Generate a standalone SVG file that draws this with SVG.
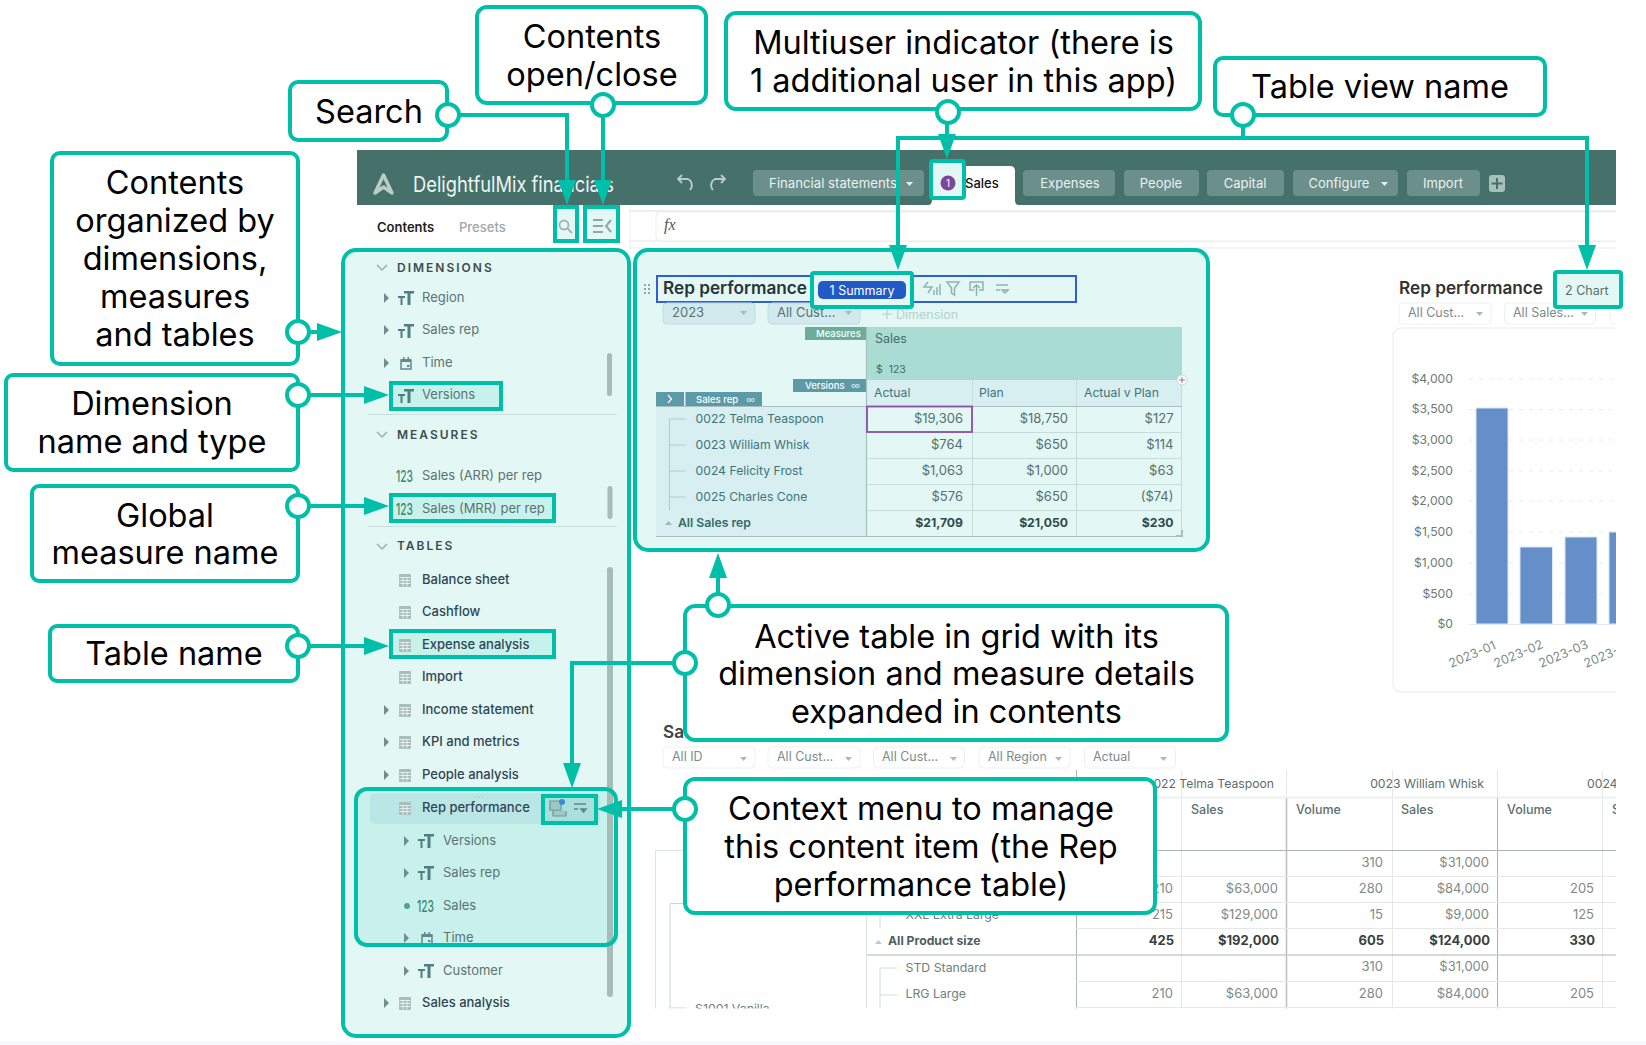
<svg xmlns="http://www.w3.org/2000/svg" width="1646" height="1045" viewBox="0 0 1646 1045">
<style>
text{font-family:Inter,"Liberation Sans",sans-serif}
.cb{fill:#fff;stroke:#00BFA8;stroke-width:4}
.ct{font-size:32.5px;fill:#000;text-anchor:middle}
.hl{fill:#E3F7F4;stroke:#00BFA8;stroke-width:4}
.hm{fill:#C9F1EC;stroke:#00BFA8;stroke-width:4}
.con{fill:none;stroke:#00BFA8;stroke-width:4}
.dot{fill:#fff;stroke:#00BFA8;stroke-width:4}
.tab{fill:#6B8F8A}
.tt{font-size:13px;fill:#EAF2F0;text-anchor:middle}
.sec{font-size:12px;font-weight:600;letter-spacing:2px;fill:#3D4D4D;transform:translate(-1px,0)}
.dim{font-size:13px;fill:#5A7372;transform:translate(-1px,-1px)}
.tbl{font-size:13px;font-weight:500;fill:#2E4653;transform:translate(-1px,-1px)}
.num{font-size:16px;font-weight:500;fill:#3A8A6E;transform:translate(-1px,0)}
.sep{stroke:#C8DEDC;stroke-width:1}
.sb{fill:#A6BCB9}
.chip{fill:#D2EAEE;stroke:#BEDDE2;stroke-width:1}
.wchip{fill:#fff;stroke:#EEF0F0;stroke-width:1}
.cht{font-size:12.5px;fill:#7C8C89;transform:translate(0,-1px)}
.ch2{font-size:12.5px;fill:#55706F}
.car{fill:#A8BBB9}
.val{font-size:13px;fill:#55706F;text-anchor:end;transform:translate(0,-1px)}
.valb{font-size:12.2px;font-weight:700;fill:#2F4A4A;text-anchor:end;transform:translate(0,-1px)}
.rh{font-size:12.2px;fill:#3F7479;transform:translate(0,-1px)}
.gl{stroke:#C4DCDA;stroke-width:1}
.tag{font-size:9.5px;font-weight:500;fill:#fff}
.ax{font-size:12.2px;fill:#6B7B78;text-anchor:end;transform:translate(0,-1px)}
.ic{fill:none;stroke:#8FB4AE;stroke-width:1.5}
.bar{fill:#648FC8;stroke:#DCE6F4;stroke-width:1}
.v2{font-size:13px;fill:#7F8A88;text-anchor:end;transform:translate(0,-1px)}
.v2b{font-size:13px;font-weight:700;fill:#3A3F3F;text-anchor:end;transform:translate(1px,-1px)}
.vh{font-size:12.2px;fill:#5A6E6C;text-anchor:end;transform:translate(0,-1px)}
.h2{font-size:12.5px;font-weight:500;fill:#5A6E6C;transform:translate(0,-1px)}
.lt{font-size:12.3px;fill:#6F7F7E;transform:translate(-1px,-1px)}
.l1{stroke:#E6E8E8;stroke-width:1}
.l2{stroke:#AEB4B4;stroke-width:1}
</style>
<defs>
<marker id="ah" markerUnits="userSpaceOnUse" markerWidth="26" markerHeight="18" refX="20" refY="9" orient="auto"><path d="M0,0L25,9L0,18Z" fill="#00BFA8"/></marker>
<symbol id="tT" viewBox="0 0 16 14" width="16" height="14" overflow="visible"><path d="M0,5H7V7H4.5V14H2.5V7H0ZM6,0H16V2.5H12.5V14H9.5V2.5H6Z" fill="#4F7F82"/></symbol>
<symbol id="tb" viewBox="0 0 12 13" width="12" height="13"><rect width="12" height="13" rx="1" fill="#A9BDBD"/><path d="M0.5,3.5H11.5M0.5,6.5H11.5M0.5,9.5H11.5M4,3.5V12.5M8,3.5V12.5" stroke="#E9F4F3" stroke-width="0.9" fill="none"/></symbol>
<symbol id="cal" viewBox="0 0 12 13" width="12" height="13"><path d="M1,3H11V12H1Z" fill="none" stroke="#5F8A8E" stroke-width="1.5"/><path d="M1,2H11V5H1ZM3,0H4.5V2H3ZM7.5,0H9V2H7.5ZM7,8H9.5V10H7Z" fill="#5F8A8E"/></symbol>
<clipPath id="c2"><rect x="640" y="770" width="976" height="238.500"/></clipPath>
<clipPath id="c3"><rect x="1380" y="260" width="236" height="460"/></clipPath>
</defs>

<rect width="1646" height="1045" fill="#fff"/>
<rect y="1041" width="1646" height="4" fill="#F8F9FA"/>

<g id="app-header">
<rect x="357" y="150" width="1259" height="55" fill="#46706A"/>
<path d="M375,193L383.500,175L392,193L383.500,187Z" fill="none" stroke="#B9CCC8" stroke-width="3.500" stroke-linejoin="round"/>
<text x="413" y="192" font-size="21" fill="#EEF5F3" textLength="201" lengthAdjust="spacingAndGlyphs">DelightfulMix financials</text>
<path d="M690,190A7,7 0 0 0 688,179H678M682,175L678,179L682,183" fill="none" stroke="#B9CCC8" stroke-width="1.800"/>
<path d="M713,190A7,7 0 0 1 715,179H725M721,175L725,179L721,183" fill="none" stroke="#B9CCC8" stroke-width="1.800"/>
<rect class="tab" x="753" y="170" width="171" height="26" rx="4"/><text class="tt" x="833" y="188" style="font-size:13.2px">Financial statements</text><path d="M906,182h7l-3.500,4z" fill="#EAF2F0"/>
<path d="M928,205Q932,205 932,200V171Q932,166 937,166H1010Q1015,166 1015,171V200Q1015,205 1019,205Z" fill="#fff"/>
<text x="965" y="188" font-size="13" font-weight="500" fill="#111">Sales</text>
<rect class="tab" x="1023" y="170" width="92" height="26" rx="4"/><text class="tt" x="1070" y="188">Expenses</text>
<rect class="tab" x="1124" y="170" width="75" height="26" rx="4"/><text class="tt" x="1161" y="188">People</text>
<rect class="tab" x="1207" y="170" width="77" height="26" rx="4"/><text class="tt" x="1245" y="188">Capital</text>
<rect class="tab" x="1293" y="170" width="105" height="26" rx="4"/><text class="tt" x="1339" y="188">Configure</text><path d="M1381,182h7l-3.500,4z" fill="#EAF2F0"/>
<rect class="tab" x="1407" y="170" width="73" height="26" rx="4"/><text class="tt" x="1443" y="188">Import</text>
<rect x="1489" y="175" width="16" height="17" rx="3" fill="#A9BFBA"/><path d="M1497,178V189M1491.500,183.500H1502.500" stroke="#46706A" stroke-width="2"/>
</g>

<g id="toolbar">
<text x="377" y="232" font-size="13" font-weight="600" fill="#222">Contents</text>
<text x="459" y="232" font-size="13" font-weight="500" fill="#9AA8A6">Presets</text>
<line x1="630" y1="205" x2="630" y2="250" stroke="#EDF0F0"/>
<line x1="630" y1="211" x2="1616" y2="211" stroke="#E6E8E8" stroke-width="1.500"/>
<line x1="630" y1="241" x2="1616" y2="241" stroke="#EDEFEF" stroke-width="1.500"/>
<line x1="630" y1="248" x2="1616" y2="248" stroke="#F1F2F2" stroke-width="1.500"/>
<rect x="656" y="212" width="970" height="29" rx="4" fill="#fff" stroke="#EBEDED"/>
<rect x="1616" y="140" width="30" height="900" fill="#fff"/>
<text x="664" y="230" font-size="16" font-style="italic" fill="#555" style="font-family:'Liberation Serif',serif">fx</text>
</g>

<g id="contents-panel">
<rect class="hl" x="343" y="250" width="286" height="786" rx="13"/>
<path d="M377,265l5,5l5,-5M377,432l5,5l5,-5M377,544l5,5l5,-5" fill="none" stroke="#9DB2B0" stroke-width="1.500"/>
<text class="sec" x="398" y="272">DIMENSIONS</text>
<text class="sec" x="398" y="439">MEASURES</text>
<text class="sec" x="398" y="550">TABLES</text>
<path d="M384,293l5,5l-5,5zM384,325l5,5l-5,5zM384,358l5,5l-5,5zM384,705l5,5l-5,5zM384,737l5,5l-5,5zM384,770l5,5l-5,5zM384,998l5,5l-5,5zM404,966l5,5l-5,5z" fill="#6F8F8F"/>
<use href="#tT" x="398" y="291"/><use href="#tT" x="398" y="324"/><use href="#cal" x="400" y="357"/>
<rect x="607" y="353" width="5" height="43" rx="2.500" class="sb"/><rect x="607.500" y="486" width="5" height="33" rx="2.500" class="sb"/><rect x="607" y="567" width="6" height="430" rx="3" class="sb"/>
<text class="dim" x="423" y="303">Region</text>
<text class="dim" x="423" y="335">Sales rep</text>
<text class="dim" x="423" y="368">Time</text>
<line class="sep" x1="368" y1="414.500" x2="617" y2="414.500"/>
<text class="num" x="397" y="482" textLength="17" lengthAdjust="spacingAndGlyphs">123</text>
<text class="dim" x="423" y="481">Sales (ARR) per rep</text>
<line class="sep" x1="368" y1="526.500" x2="617" y2="526.500"/>
<use href="#tb" x="399" y="574"/><use href="#tb" x="399" y="606"/><use href="#tb" x="399" y="671"/><use href="#tb" x="399" y="704"/><use href="#tb" x="399" y="736"/><use href="#tb" x="399" y="769"/><use href="#tb" x="399" y="997"/>
<text class="tbl" x="423" y="585">Balance sheet</text>
<text class="tbl" x="423" y="617">Cashflow</text>
<text class="tbl" x="423" y="682">Import</text>
<text class="tbl" x="423" y="715">Income statement</text>
<text class="tbl" x="423" y="747">KPI and metrics</text>
<text class="tbl" x="423" y="780">People analysis</text>
<use href="#tT" x="418" y="964"/>
<text class="dim" x="444" y="976">Customer</text>
<text class="tbl" x="423" y="1008">Sales analysis</text>
</g>

<g id="item-versions"><rect class="hm" x="391" y="383" width="110" height="26"/><use href="#tT" x="398" y="389"/><text class="dim" x="423" y="400">Versions</text></g>
<g id="item-mrr"><rect class="hm" x="391" y="495" width="163" height="26"/><text class="num" x="397" y="515" textLength="17" lengthAdjust="spacingAndGlyphs">123</text><text class="dim" x="423" y="514">Sales (MRR) per rep</text></g>
<g id="item-expense"><rect class="hm" x="391" y="631" width="163" height="26"/><use href="#tb" x="399" y="639"/><text class="tbl" x="423" y="650">Expense analysis</text></g>

<g id="item-rep">
<rect x="356" y="789" width="260" height="156" rx="11" fill="#C9F1EC"/>
<rect x="370" y="793" width="230" height="31" rx="5" fill="#BAE6E6"/>
<rect x="607" y="789" width="6" height="156" class="sb"/>
<circle cx="475" cy="797" r="0.800" fill="#9DB"/><circle cx="479" cy="797" r="0.800" fill="#9DB"/><circle cx="483" cy="797" r="0.800" fill="#9DB"/>
<use href="#tb" x="399" y="802"/>
<text class="tbl" x="423" y="813">Rep performance</text>
<path d="M404,836l5,5l-5,5zM404,868l5,5l-5,5zM404,933l5,5l-5,5z" fill="#6F8F8F"/>
<use href="#tT" x="418" y="834"/><use href="#tT" x="418" y="866"/>
<text class="dim" x="444" y="846">Versions</text>
<text class="dim" x="444" y="878">Sales rep</text>
<circle cx="407" cy="906" r="3" fill="#4FA493"/>
<text class="num" x="418" y="912" textLength="17" lengthAdjust="spacingAndGlyphs">123</text>
<text class="dim" x="444" y="911">Sales</text>
<use href="#cal" x="421" y="932"/>
<text class="dim" x="444" y="943">Time</text>
<rect x="356" y="789" width="260" height="156" rx="11" fill="none" stroke="#00BFA8" stroke-width="4"/>
<g id="context-menu"><rect x="543" y="796" width="53" height="27" fill="#A9E0DE" stroke="#00BFA8" stroke-width="4"/>
<path d="M550,801h11v9h-11zM553,810v6h13v-5" fill="#8AA8A8" fill-opacity="0.4" stroke="#6E9494" stroke-width="1.200"/><circle cx="562" cy="802" r="3" fill="#3F88D8"/>
<path d="M574,804h12M574,809h4M581,809h5l-2.500,3z" stroke="#5F8888" stroke-width="1.500" fill="#5F8888"/></g>
</g>

<g id="search-btn"><rect class="hl" x="555" y="207" width="22" height="34"/><circle cx="564" cy="225" r="4.500" fill="none" stroke="#9DB3B0" stroke-width="1.800"/><path d="M567.500,228.500l4.500,4.500" stroke="#9DB3B0" stroke-width="1.800"/></g>
<g id="open-btn"><rect class="hl" x="585" y="207" width="33" height="34"/><path d="M593,220h10M593,226h10M593,232h10M611,220l-5,6l5,6" fill="none" stroke="#8FA9A6" stroke-width="2"/></g>

<g id="grid-panel">
<rect class="hl" x="635" y="250" width="573" height="300" rx="13"/>
<path d="M644,284h2v2h-2zM648,284h2v2h-2zM644,288h2v2h-2zM648,288h2v2h-2zM644,292h2v2h-2zM648,292h2v2h-2z" fill="#8AA8A4"/>
<rect x="657" y="276" width="419" height="26" fill="none" stroke="#2F5FD0" stroke-width="2"/>
<text x="663" y="294" font-size="17.200" font-weight="600" fill="#26353A">Rep performance</text>
<path d="M928,282l-4,5h8l-4,6M934,290v5M937,287v8M940,284v11" class="ic"/>
<path d="M947,282h12l-4.500,6v7l-3,-2v-5z" class="ic"/>
<path d="M970,282h13v8h-4M974,290h-4v-8M976.500,296v-11M973,288l3.500,-3l3.500,3" class="ic"/>
<path d="M996,285h12M996,290h4M1002,290h6l-3,3z" class="ic"/>
<rect class="chip" x="663" y="303" width="92" height="21" rx="4"/><text x="672" y="317" font-size="13" fill="#5A7372">2023</text><path d="M740,311h7l-3.500,4z" class="car"/>
<rect class="chip" x="768" y="303" width="92" height="21" rx="4"/><text x="777" y="317" font-size="13" fill="#5A7372">All Cust...</text><path d="M845,311h7l-3.500,4z" class="car"/>
<path d="M887,309V319M882,314H892" stroke="#B5D2CE" stroke-width="1.200"/><text x="896" y="319" font-size="12.500" fill="#B5D2CE">Dimension</text>
<rect x="867" y="327" width="315" height="53" fill="#A9DDD3"/>
<text x="875" y="343" font-size="12.500" fill="#4A6B66">Sales</text>
<text x="876" y="373" font-size="10.500" fill="#4A6B66" xml:space="preserve">$  123</text>
<rect x="805" y="327" width="62" height="13" fill="#6BAD98"/><text class="tag" x="816" y="337">Measures</text>
<rect x="793" y="379" width="73" height="13" fill="#5C9AA8"/><text class="tag" x="805" y="389">Versions</text><text class="tag" x="851" y="389" fill-opacity="0.7">∞</text>
<rect x="656" y="392" width="28" height="14" fill="#5C9AA8"/><path d="M668,395l3.500,4l-3.500,4" fill="none" stroke="#fff" stroke-width="1.200"/>
<rect x="685.500" y="392" width="76.500" height="14" fill="#5C9AA8"/><text class="tag" x="696" y="402.500">Sales rep</text><text class="tag" x="746" y="402.500" fill-opacity="0.7">∞</text>
<rect x="867" y="380" width="315" height="26" fill="#D7EFF0"/>
<rect x="656" y="406" width="211" height="130" fill="#D7EFF0"/>
<text x="874" y="398" class="rh">Actual</text><text x="979" y="398" class="rh">Plan</text><text x="1084" y="398" class="rh">Actual v Plan</text>
<path d="M972.500,380V536M1076.500,380V536M1181.500,380V536M867,432.500H1182M867,458.500H1182M867,484.500H1182M867,510.500H1182" class="gl"/>
<path d="M656,406.500H1182M656,536.500H1182M866.500,327V536" stroke="#A8BFBF" stroke-width="1.200" fill="none"/>
<path d="M685.500,419H669.500V510M669.500,445H685.500M669.500,471H685.500M669.500,497H685.500" fill="none" stroke="#B0CCCC" stroke-width="1"/>
<text class="rh" x="695.500" y="423.500">0022 Telma Teaspoon</text>
<text class="rh" x="695.500" y="449.500">0023 William Whisk</text>
<text class="rh" x="695.500" y="475.500">0024 Felicity Frost</text>
<text class="rh" x="695.500" y="501.500">0025 Charles Cone</text>
<path d="M665,525h7l-3.500,-4z" fill="#9CBDBD"/>
<text x="678" y="526.500" font-size="12.200" font-weight="600" fill="#35696B">All Sales rep</text>
<text class="val" x="963" y="423.500">$19,306</text><text class="val" x="1068" y="423.500">$18,750</text><text class="val" x="1173.500" y="423.500">$127</text>
<text class="val" x="963" y="449.500">$764</text><text class="val" x="1068" y="449.500">$650</text><text class="val" x="1173.500" y="449.500">$114</text>
<text class="val" x="963" y="475.500">$1,063</text><text class="val" x="1068" y="475.500">$1,000</text><text class="val" x="1173.500" y="475.500">$63</text>
<text class="val" x="963" y="501.500">$576</text><text class="val" x="1068" y="501.500">$650</text><text class="val" x="1173.500" y="501.500">($74)</text>
<text class="valb" x="963" y="527.500">$21,709</text><text class="valb" x="1068" y="527.500">$21,050</text><text class="valb" x="1173.500" y="527.500">$230</text>
<rect x="867" y="406.500" width="105" height="25.500" fill="none" stroke="#8A4FA8" stroke-width="1.800"/>
<circle cx="1182" cy="380" r="5" fill="#fff" stroke="#C4DCDA"/><path d="M1179,380h6M1182,377v6" stroke="#667" stroke-width="0.800"/>
<path d="M1176,536h6v-6" fill="none" stroke="#A8BFBF" stroke-width="2"/>
</g>
<g id="view-summary"><rect class="hl" x="812" y="273" width="100" height="34" rx="2"/><rect x="818" y="281" width="88" height="18" rx="5" fill="#2159C6"/><text x="862" y="295" font-size="12.500" fill="#fff" text-anchor="middle">1 Summary</text></g>
<g id="multiuser-btn"><rect class="hl" x="931" y="161" width="33" height="37" rx="2"/><circle cx="948" cy="183" r="7.500" fill="#7E459C"/><text x="948" y="187" font-size="10" fill="#fff" text-anchor="middle">1</text></g>

<g id="chart-panel" clip-path="url(#c3)">
<text x="1399" y="294" font-size="17.200" font-weight="600" fill="#333">Rep performance</text>
<rect class="wchip" x="1399" y="303" width="92" height="21" rx="4"/><text class="cht" x="1408" y="318">All Cust...</text><path d="M1476,312h7l-3.500,4z" class="car"/>
<rect class="wchip" x="1504.500" y="303" width="91" height="21" rx="4"/><text class="cht" x="1513" y="318">All Sales...</text><path d="M1581,312h7l-3.500,4z" class="car"/>
<rect class="wchip" x="1610" y="303" width="40" height="21" rx="4"/>
<rect x="1393" y="328" width="260" height="364" rx="8" fill="#fff" stroke="#E8EAEA"/>
<g stroke="#E8EAEA" stroke-dasharray="4 6"><line x1="1469" y1="379" x2="1612" y2="379"/><line x1="1469" y1="409.500" x2="1612" y2="409.500"/><line x1="1469" y1="440" x2="1612" y2="440"/><line x1="1469" y1="471" x2="1612" y2="471"/><line x1="1469" y1="501" x2="1612" y2="501"/><line x1="1469" y1="532" x2="1612" y2="532"/><line x1="1469" y1="563" x2="1612" y2="563"/><line x1="1469" y1="594" x2="1612" y2="594"/></g>
<line x1="1469" y1="624.500" x2="1616" y2="624.500" stroke="#E8EAEA"/>
<text class="ax" x="1453" y="383.500">$4,000</text><text class="ax" x="1453" y="414">$3,500</text><text class="ax" x="1453" y="444.500">$3,000</text><text class="ax" x="1453" y="475.500">$2,500</text><text class="ax" x="1453" y="505.500">$2,000</text><text class="ax" x="1453" y="536.500">$1,500</text><text class="ax" x="1453" y="567.500">$1,000</text><text class="ax" x="1453" y="598.500">$500</text><text class="ax" x="1453" y="629">$0</text>
<rect class="bar" x="1476" y="408" width="32" height="216"/><rect class="bar" x="1520" y="547" width="32.500" height="77"/><rect class="bar" x="1565" y="537" width="32" height="87"/><rect class="bar" x="1609" y="532" width="32" height="92"/>
<g font-size="12.500" fill="#7C8C89"><text transform="translate(1451,668) rotate(-23)">2023-01</text><text transform="translate(1496,668) rotate(-23)">2023-02</text><text transform="translate(1541,668) rotate(-23)">2023-03</text><text transform="translate(1586,668) rotate(-23)">2023-04</text></g>
</g>
<g id="view-chart"><rect class="hl" x="1555" y="272" width="66" height="35" rx="2"/><text x="1565" y="295" class="ch2">2 Chart</text></g>

<g id="lower-table">
<text x="663" y="738" font-size="17.200" font-weight="600" fill="#444">Sa</text>
<rect class="wchip" x="663" y="747" width="92" height="21" rx="4"/><text class="cht" x="672" y="762">All ID</text><path d="M740,757h7l-3.500,4z" class="car"/>
<rect class="wchip" x="768" y="747" width="92" height="21" rx="4"/><text class="cht" x="777" y="762">All Cust...</text><path d="M845,757h7l-3.500,4z" class="car"/>
<rect class="wchip" x="873.500" y="747" width="91" height="21" rx="4"/><text class="cht" x="882" y="762">All Cust...</text><path d="M950,757h7l-3.500,4z" class="car"/>
<rect class="wchip" x="979" y="747" width="91" height="21" rx="4"/><text class="cht" x="988" y="762">All Region</text><path d="M1055,757h7l-3.500,4z" class="car"/>
<rect class="wchip" x="1084.500" y="747" width="91" height="21" rx="4"/><text class="cht" x="1093" y="762">Actual</text><path d="M1160,757h7l-3.500,4z" class="car"/>
<g clip-path="url(#c2)">
<path d="M656,850.500H700M655.500,850V1010" fill="none" stroke="#DDE3E3"/>
<path d="M686,903.500H670V1010M670,1008H686" fill="none" stroke="#C8D6D8"/>
<text class="lt" x="696" y="1014">S1001 Vanilla</text>
<path d="M1181.500,770V1010M1392.500,770V1010M1602.500,770V1010" class="l1"/>
<path d="M1076.500,770V1010M1497.500,797V1010" class="l2"/>
<line x1="1286.500" y1="797" x2="1286.500" y2="1010" stroke="#BBC" stroke-width="1.500"/>
<line x1="1286.500" y1="770" x2="1286.500" y2="797" class="l1"/><line x1="1497.500" y1="770" x2="1497.500" y2="797" class="l1"/>
<path d="M1076,797.500H1616" stroke="#EEF0F0" stroke-width="2"/>
<path d="M1076,850.500H1616" class="l2"/>
<path d="M1076,876.500H1616M1076,902.500H1616M1076,928.500H1616M1076,981.500H1616M1076,1007.500H1616" class="l1"/>
<path d="M867,955H1616" stroke="#C8CCCC" stroke-width="1.500"/>
<line x1="866.500" y1="905" x2="866.500" y2="1010" stroke="#E0E4E4"/>
<path d="M880,905V928M897,916H880M897,968H880V1010M880,995H897" fill="none" stroke="#CFDCDE"/>
<text class="lt" x="906.500" y="920">XXL Extra Large</text>
<path d="M875,944h7l-3.500,-4z" fill="#B8CBD0"/>
<text x="888" y="945" font-size="12.200" font-weight="700" fill="#4F5F5E">All Product size</text>
<text class="lt" x="906.500" y="972.500">STD Standard</text>
<text class="lt" x="906.500" y="998.500">LRG Large</text>
<text class="vh" x="1274" y="788.500">0022 Telma Teaspoon</text>
<text class="vh" x="1484" y="788.500">0023 William Whisk</text>
<text x="1587" y="787.500" font-size="12.200" fill="#5A6E6C">0024</text>
<text class="h2" x="1191" y="814.500">Sales</text><text class="h2" x="1296" y="814.500">Volume</text><text class="h2" x="1401" y="814.500">Sales</text><text class="h2" x="1507" y="814.500">Volume</text><text class="h2" x="1612" y="814.500">Sales</text>
<text class="v2" x="1383" y="867.500">310</text><text class="v2" x="1489" y="867.500">$31,000</text>
<text class="v2" x="1173" y="893.500">210</text><text class="v2" x="1278" y="893.500">$63,000</text><text class="v2" x="1383" y="893.500">280</text><text class="v2" x="1489" y="893.500">$84,000</text><text class="v2" x="1594" y="893.500">205</text>
<text class="v2" x="1173" y="919.500">215</text><text class="v2" x="1278" y="919.500">$129,000</text><text class="v2" x="1383" y="919.500">15</text><text class="v2" x="1489" y="919.500">$9,000</text><text class="v2" x="1594" y="919.500">125</text>
<text class="v2b" x="1173" y="946">425</text><text class="v2b" x="1278" y="946">$192,000</text><text class="v2b" x="1383" y="946">605</text><text class="v2b" x="1489" y="946">$124,000</text><text class="v2b" x="1594" y="946">330</text>
<text class="v2" x="1383" y="972">310</text><text class="v2" x="1489" y="972">$31,000</text>
<text class="v2" x="1173" y="998.500">210</text><text class="v2" x="1278" y="998.500">$63,000</text><text class="v2" x="1383" y="998.500">280</text><text class="v2" x="1489" y="998.500">$84,000</text><text class="v2" x="1594" y="998.500">205</text>
</g>
</g>

<g id="callout-search"><rect class="cb" x="290" y="82" width="157" height="58" rx="8"/><text class="ct" x="369" y="123">Search</text></g>
<g id="callout-open"><rect class="cb" x="477" y="7" width="229" height="96" rx="10"/><text class="ct" x="592" y="48">Contents</text><text class="ct" x="592" y="86">open/close</text></g>
<g id="callout-multi"><rect class="cb" x="726" y="13" width="474" height="96" rx="10"/><text class="ct" x="963.500" y="54">Multiuser indicator (there is</text><text class="ct" x="963.500" y="92">1 additional user in this app)</text></g>
<g id="callout-view"><rect class="cb" x="1215" y="58" width="330" height="57" rx="8"/><text class="ct" x="1380" y="98">Table view name</text></g>
<g id="callout-organized"><rect class="cb" x="52" y="153" width="246" height="211" rx="8"/><text class="ct" x="175" y="194">Contents</text><text class="ct" x="175" y="232">organized by</text><text class="ct" x="175" y="270">dimensions,</text><text class="ct" x="175" y="308">measures</text><text class="ct" x="175" y="346">and tables</text></g>
<g id="callout-dimension"><rect class="cb" x="6" y="375" width="292" height="95" rx="7"/><text class="ct" x="152" y="415">Dimension</text><text class="ct" x="152" y="453">name and type</text></g>
<g id="callout-measure"><rect class="cb" x="32" y="486" width="266" height="95" rx="7"/><text class="ct" x="165" y="527">Global</text><text class="ct" x="165" y="564">measure name</text></g>
<g id="callout-table"><rect class="cb" x="50" y="626" width="248" height="55" rx="7"/><text class="ct" x="174" y="665">Table name</text></g>
<g id="callout-active"><rect class="cb" x="685" y="606" width="542" height="134" rx="10"/><text class="ct" x="956.500" y="648">Active table in grid with its</text><text class="ct" x="956.500" y="685">dimension and measure details</text><text class="ct" x="956.500" y="723">expanded in contents</text></g>
<g id="callout-context"><rect class="cb" x="685" y="779" width="470" height="134" rx="10"/><text class="ct" x="921" y="820">Context menu to manage</text><text class="ct" x="921" y="858">this content item (the Rep</text><text class="ct" x="921" y="896">performance table)</text></g>

<g id="connectors">
<path class="con" d="M448,115H567V200" marker-end="url(#ah)"/>
<path class="con" d="M603,105V200" marker-end="url(#ah)"/>
<path class="con" d="M947,112V154" marker-end="url(#ah)"/>
<path class="con" d="M1243,115V138"/>
<path class="con" d="M1243,138H898V265" marker-end="url(#ah)"/>
<path class="con" d="M1243,138H1587V265" marker-end="url(#ah)"/>
<path class="con" d="M298,332H337" marker-end="url(#ah)"/>
<path class="con" d="M298,395H384" marker-end="url(#ah)"/>
<path class="con" d="M298,506H384" marker-end="url(#ah)"/>
<path class="con" d="M298,646H384" marker-end="url(#ah)"/>
<path class="con" d="M718,605V558" marker-end="url(#ah)"/>
<path class="con" d="M685,663H572V783" marker-end="url(#ah)"/>
<path class="con" d="M685,809H602" marker-end="url(#ah)"/>
<circle class="dot" cx="448" cy="115" r="11"/><circle class="dot" cx="603" cy="105" r="11"/><circle class="dot" cx="948" cy="112" r="11"/><circle class="dot" cx="1243" cy="115" r="11"/><circle class="dot" cx="298" cy="332" r="11"/><circle class="dot" cx="298" cy="395" r="11"/><circle class="dot" cx="298" cy="506" r="11"/><circle class="dot" cx="298" cy="646" r="11"/><circle class="dot" cx="718" cy="605" r="11"/><circle class="dot" cx="685" cy="663" r="11"/><circle class="dot" cx="685" cy="809" r="11"/>
</g>
</svg>
